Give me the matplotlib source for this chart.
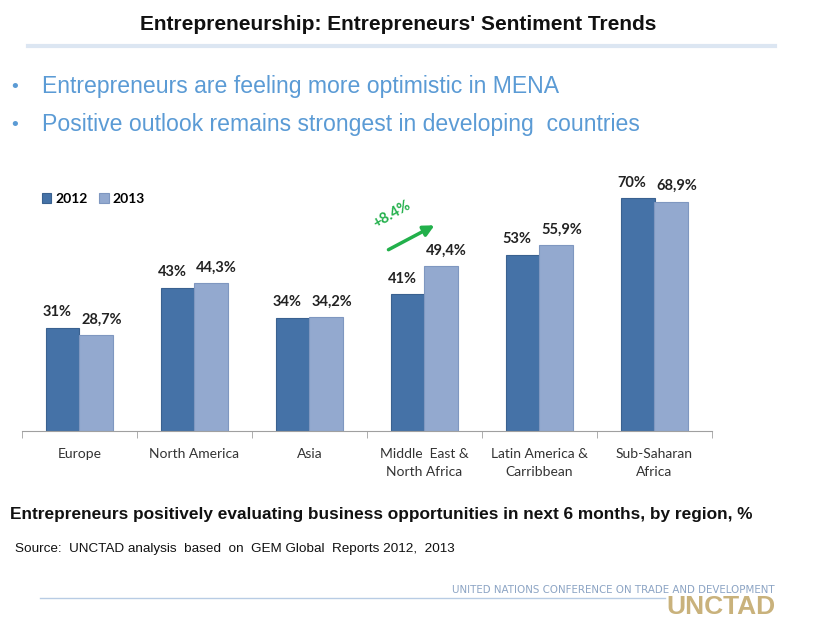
import numpy as np
import matplotlib.pyplot as plt
from matplotlib import font_manager

regions = ["Europe", "North America", "Asia", "Middle  East &\nNorth Africa",
           "Latin America &\nCarribbean", "Sub-Saharan\nAfrica"]
v2012 = [31, 43, 34, 41, 53, 70]
v2013 = [28.7, 44.3, 34.2, 49.4, 55.9, 68.9]
years = ["2012", "2013"]

available = {f.name for f in font_manager.fontManager.ttflist}
narrow = "Liberation Sans Narrow" if "Liberation Sans Narrow" in available else "Liberation Sans"
calibri = "Lato" if "Lato" in available else "DejaVu Sans"

c12, c13 = "#4572A7", "#93A9CF"
W, H = 814, 622
fig = plt.figure(figsize=(W / 100, H / 100), dpi=100)


def fx(px):
    return px / W


def fy(py):
    return 1 - py / H


# title and header line
fig.text(fx(398), fy(24), "Entrepreneurship: Entrepreneurs' Sentiment Trends",
         ha="center", va="center", fontsize=15, fontweight="bold", family=narrow, color="#111111")
fig.add_artist(plt.Line2D([fx(28), fx(775)], [fy(46), fy(46)], color="#DCE6F2", lw=3))

# bullets
bullets = ["Entrepreneurs are feeling more optimistic in MENA",
           "Positive outlook remains strongest in developing  countries"]
for i, b in enumerate(bullets):
    y = fy(87 + 38 * i)
    fig.text(fx(15), y, "•", ha="center", va="center", fontsize=13, color="#5B9BD5")
    fig.text(fx(42), y, b, ha="left", va="center", fontsize=16.6, family=narrow, color="#5B9BD5")

# chart
ax = fig.add_axes([fx(22), fy(431), fx(712) - fx(22), (431 - 164.6) / H])
x = np.arange(len(regions))
bw = 0.29
b1 = ax.bar(x - bw / 2, v2012, bw, color=c12, edgecolor="#3A6190", lw=0.8, label=years[0])
b2 = ax.bar(x + bw / 2, v2013, bw, color=c13, edgecolor="#7F97C0", lw=0.8, label=years[1])
for bars, vals, dx in ((b1, v2012, -4), (b2, v2013, 4)):
    for r, v in zip(bars, vals):
        ax.annotate(f"{v:g}%".replace(".", ","), (r.get_x() + r.get_width() / 2, v),
                    xytext=(dx, 6), textcoords="offset points", ha="center", va="bottom",
                    fontsize=10.5, fontweight="bold", family=calibri, color="#222222")

ax.set_xlim(-0.5, len(regions) - 0.5)
ax.set_ylim(0, 80)
ax.set_yticks([])
for s in ("top", "right", "left"):
    ax.spines[s].set_visible(False)
ax.spines["bottom"].set_color("#A0A0A0")
ax.set_xticks(x)
ax.set_xticklabels(regions, fontsize=10, family=calibri, color="#333333", linespacing=1.6)
ax.tick_params(axis="x", which="major", length=0, pad=12)
ax.set_xticks(np.arange(-0.5, len(regions)), minor=True)
ax.tick_params(axis="x", which="minor", length=5, color="#A0A0A0")

leg = ax.legend(loc="center left", bbox_to_anchor=(fx(36), fy(199)), bbox_transform=fig.transFigure,
                ncol=2, frameon=False, handlelength=0.7, handleheight=0.7, handletextpad=0.3,
                columnspacing=0.8, prop={"family": calibri, "weight": "bold", "size": 10},
                borderaxespad=0)


def px_to_data(px, py):
    return -0.5 + (px - 22) / 115, (431 - py) / 3.33


# growth arrow for MENA
ax.annotate("", xy=px_to_data(437, 224), xytext=px_to_data(386, 251),
            arrowprops=dict(arrowstyle="-|>", color="#22B04B", lw=2.5, mutation_scale=16))
ax.text(*px_to_data(392, 214), "+8.4%", rotation=30,
        ha="center", va="center", fontsize=10.5, fontweight="bold", family=calibri, color="#22B04B")

# footer texts
fig.text(fx(10), fy(514), "Entrepreneurs positively evaluating business opportunities in next 6 months, by region, %",
         ha="left", va="center", fontsize=12.4, fontweight="bold", family=narrow, color="#111111")
fig.text(fx(15), fy(549), "Source:  UNCTAD analysis  based  on  GEM Global  Reports 2012,  2013",
         ha="left", va="center", fontsize=9.7, family=narrow, color="#111111")
fig.add_artist(plt.Line2D([fx(40), fx(665)], [fy(598), fy(598)], color="#B8CCE4", lw=1))
fig.text(fx(775), fy(590), "UNITED NATIONS CONFERENCE ON TRADE AND DEVELOPMENT",
         ha="right", va="center", fontsize=7.4, family="DejaVu Sans", color="#8CA4C4")
fig.text(fx(775), fy(607), "UNCTAD", ha="right", va="center", fontsize=19, fontweight="heavy",
         family=narrow, color="#C9B27C")

fig.savefig("out.png", dpi=100)
